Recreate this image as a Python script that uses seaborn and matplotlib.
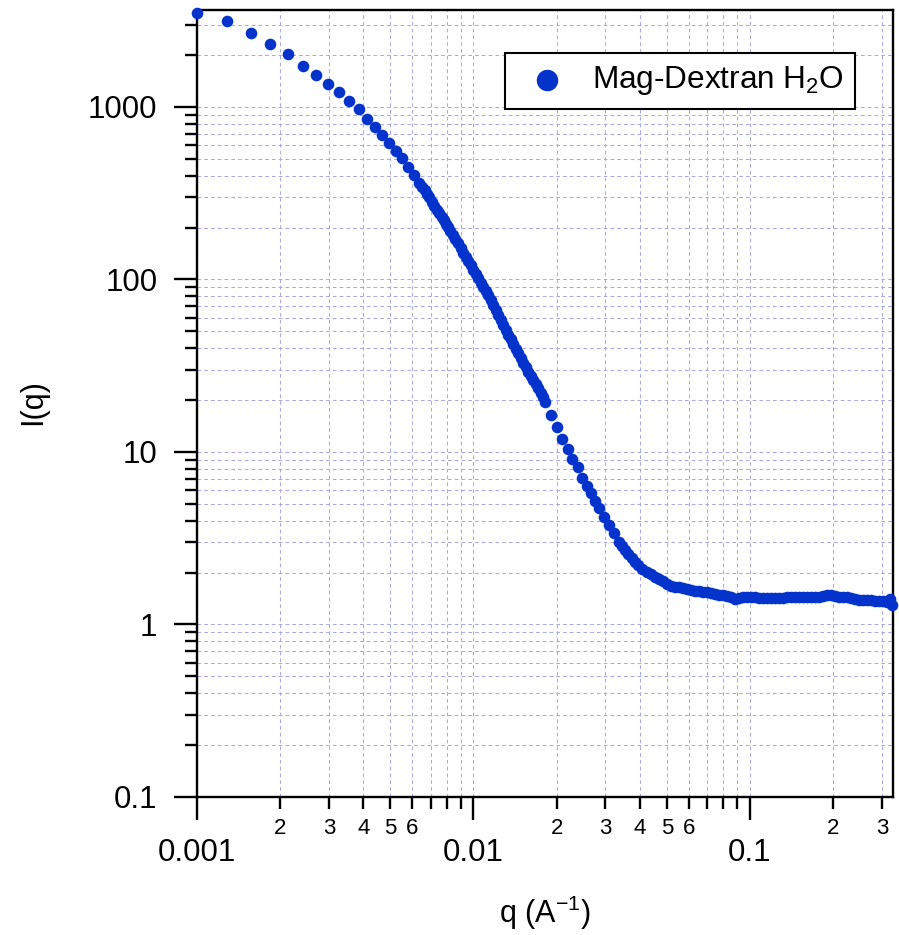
import numpy as np
import pandas as pd
import matplotlib
matplotlib.use("Agg")
import matplotlib.pyplot as plt
import matplotlib.ticker as mticker
import seaborn as sns

# ---- data ----
q_values = [
    0.00100, 0.00128, 0.001564, 0.001841, 0.002128, 0.002417, 0.002694, 0.002977,
    0.003271, 0.003546, 0.003845, 0.004120, 0.004404, 0.004669, 0.004961, 0.005245,
    0.005527, 0.005810, 0.006093, 0.006368, 0.006521,
    0.006677, 0.006797, 0.006920, 0.007065, 0.007214, 0.007357, 0.007503, 0.007661,
    0.007822, 0.007963, 0.008107, 0.008257, 0.008409, 0.008608, 0.008811, 0.008996,
    0.009186, 0.009380, 0.009577, 0.009778, 0.009984, 0.010194, 0.010409, 0.010627,
    0.010849, 0.011077, 0.011310, 0.011548, 0.011791, 0.012039, 0.012292, 0.012551,
    0.012816, 0.013086, 0.013361, 0.013643, 0.013932, 0.014224, 0.014521, 0.014827,
    0.015139, 0.015458, 0.015783, 0.016115, 0.016454, 0.016800, 0.017154, 0.017513,
    0.017880, 0.018137,
    0.019019, 0.019994, 0.020955, 0.021973, 0.022771, 0.023821, 0.024624, 0.025672,
    0.026544, 0.027508, 0.028439, 0.029648, 0.030910, 0.032222, 0.033676, 0.03444,
    0.035313, 0.03622, 0.037342, 0.03838, 0.039446, 0.04068, 0.042309, 0.04385,
    0.04534, 0.04688, 0.04847, 0.05010, 0.05180, 0.05356, 0.05537, 0.05725,
    0.05919, 0.06118, 0.06326, 0.06540, 0.06761, 0.06990, 0.07228, 0.07470,
    0.07724, 0.07986, 0.08255, 0.08535, 0.08825, 0.09125, 0.09434, 0.09754,
    0.10083, 0.10426, 0.10777, 0.11143, 0.11520, 0.11911, 0.12315, 0.12732,
    0.13164, 0.13610, 0.14072, 0.14547, 0.15042, 0.15552, 0.16077, 0.16622,
    0.17187, 0.17765, 0.18365, 0.18989, 0.19629, 0.20294, 0.20982, 0.21689,
    0.22424, 0.23185, 0.23966, 0.24777, 0.25617, 0.26481, 0.27379, 0.28308,
    0.29262, 0.30254, 0.31281, 0.32070, 0.32614,
]
I_values = [
    3522, 3152, 2685, 2310, 2021, 1736, 1539, 1365,
    1217, 1088, 974, 855, 766, 688, 616, 558,
    504, 450, 403, 361, 345,
    330.3, 315, 299.6, 283, 266.8, 254, 242.0, 231.5,
    221.3, 211, 200.7, 190.7, 181.1, 171.3, 162.1, 151.6,
    141.8, 135, 128.5, 120.8, 113.5, 107.4, 101.6, 96.0,
    90.8, 85.9, 81.3, 76.0, 71.1, 66.6, 62.3, 58.3,
    54.5, 51.0, 47.7, 44.9, 42.3, 39.7, 37.3, 35.0,
    32.9, 31.0, 29.2, 27.6, 26.1, 24.7, 23.4, 22.1,
    20.9, 19.6,
    16.39, 13.91, 11.85, 10.41, 9.15, 8.15, 7.10, 6.35,
    5.76, 5.22, 4.72, 4.22, 3.77, 3.38, 3.02, 2.85,
    2.70, 2.55, 2.42, 2.31, 2.21, 2.11, 2.02, 1.95,
    1.886, 1.836, 1.787, 1.717, 1.672, 1.650, 1.639, 1.628,
    1.606, 1.585, 1.574, 1.564, 1.543, 1.533, 1.522, 1.502,
    1.492, 1.483, 1.463, 1.443, 1.405, 1.424, 1.443, 1.443,
    1.434, 1.434, 1.424, 1.424, 1.424, 1.424, 1.424, 1.424,
    1.424, 1.434, 1.434, 1.434, 1.443, 1.443, 1.443, 1.434,
    1.443, 1.453, 1.463, 1.473, 1.473, 1.463, 1.453, 1.443,
    1.434, 1.424, 1.405, 1.396, 1.387, 1.387, 1.378, 1.369,
    1.369, 1.360, 1.351, 1.400, 1.300,
]
series_label = "Mag-Dextran H$_2$O"
x_major_ticks = [0.001, 0.01, 0.1]
x_major_labels = ["0.001", "0.01", "0.1"]
y_major_ticks = [0.1, 1, 10, 100, 1000]
y_major_labels = ["0.1", "1", "10", "100", "1000"]

df = pd.DataFrame({"q": q_values, "I": I_values})

sns.set_style("ticks")
plt.rcParams["font.family"] = ["Liberation Sans", "DejaVu Sans"]
plt.rcParams["mathtext.fontset"] = "custom"
plt.rcParams["mathtext.rm"] = "Liberation Sans"
plt.rcParams["mathtext.it"] = "Liberation Sans:italic"
plt.rcParams["mathtext.default"] = "regular"
for k in ["text.color", "axes.labelcolor", "xtick.color", "ytick.color", "axes.edgecolor"]:
    plt.rcParams[k] = "black"

W, H = 899, 935
fig = plt.figure(figsize=(W / 100, H / 100), dpi=100)
ax = fig.add_axes([197 / W, 1 - 797 / H, (893 - 197) / W, (797 - 10) / H])

blue = "#0433cc"
sns.scatterplot(data=df, x="q", y="I", ax=ax, color=blue, s=70, linewidth=0,
                label=series_label, clip_on=False, zorder=5)

ax.set_xscale("log")
ax.set_yscale("log")
ax.set_xlim(0.001, 0.329)
ax.set_ylim(0.1, 3650)

ax.xaxis.set_major_locator(mticker.FixedLocator(x_major_ticks))
ax.xaxis.set_major_formatter(mticker.FixedFormatter(x_major_labels))
ax.yaxis.set_major_locator(mticker.FixedLocator(y_major_ticks))
ax.yaxis.set_major_formatter(mticker.FixedFormatter(y_major_labels))
ax.xaxis.set_minor_locator(mticker.LogLocator(base=10, subs=range(2, 10), numticks=50))
ax.yaxis.set_minor_locator(mticker.LogLocator(base=10, subs=range(2, 10), numticks=50))


def minor_fmt(v, pos):
    m = int(round(v / 10 ** np.floor(np.log10(v) + 1e-9)))
    return str(m) if 2 <= m <= 6 else ""


ax.xaxis.set_minor_formatter(mticker.FuncFormatter(minor_fmt))
ax.yaxis.set_minor_formatter(mticker.NullFormatter())

for s in ax.spines.values():
    s.set_visible(True)
    s.set_color("black")
    s.set_linewidth(1.7)

ax.tick_params(which="major", direction="out", length=16.5, width=1.7,
               color="black", labelcolor="black", labelsize=22.5, top=False, right=False)
ax.tick_params(axis="x", which="major", pad=13)
ax.tick_params(axis="y", which="major", pad=12)
ax.tick_params(which="minor", direction="out", length=8.6, width=1.7,
               color="black", labelcolor="black", labelsize=16, top=False, right=False)
ax.tick_params(axis="x", which="minor", pad=6.5)

ax.grid(which="both", color="#a9a9e6", linestyle=(0, (3.5, 3)), linewidth=0.75)
ax.set_axisbelow(True)

ax.set_xlabel("")
ax.set_ylabel("")
fig.text(545 / W, 1 - 913 / H, "q (A$^{-1}$)", ha="center", va="center", fontsize=22)
fig.text(33 / W, 1 - 402 / H, "I(q)", ha="center", va="center", rotation=90, fontsize=22)

leg = ax.legend(loc="upper right", bbox_to_anchor=((855 - 197) / 696, (797 - 53) / 787),
                borderaxespad=0, fontsize=22.7, frameon=True, fancybox=False,
                markerscale=1.85, handlelength=1.9, handletextpad=0.48,
                borderpad=0.36)
fr = leg.get_frame()
fr.set_edgecolor("black")
fr.set_linewidth(1.5)
fr.set_facecolor("white")
fr.set_alpha(1)

fig.savefig("out.png", dpi=100)
